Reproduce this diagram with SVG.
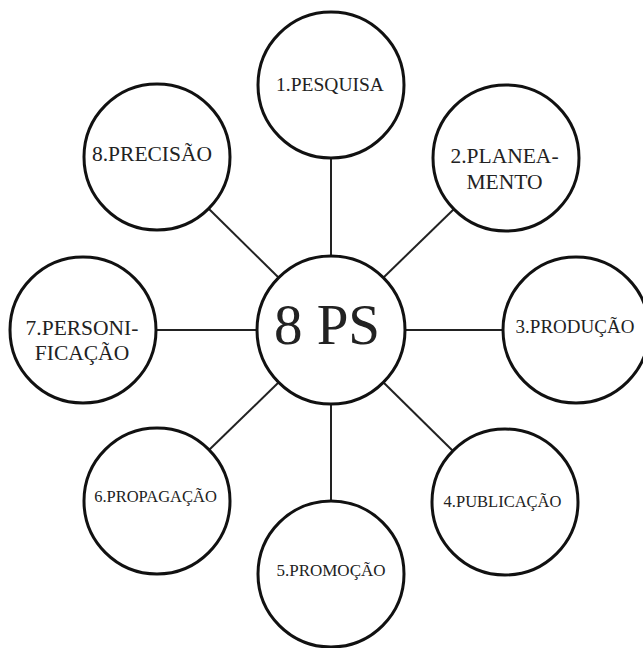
<svg xmlns="http://www.w3.org/2000/svg" width="643" height="648" viewBox="0 0 643 648">
<style>
.node circle{fill:#fff;stroke:#111;stroke-width:3}
.edge{stroke:#222;stroke-width:2}
text{font-family:"Liberation Serif","Times New Roman",serif;fill:#222;text-anchor:middle}
</style>
<rect width="643" height="648" fill="#fff"/>
<g id="connectors">
<line class="edge" x1="331" y1="256" x2="331" y2="158"/>
<line class="edge" x1="383" y1="278" x2="454" y2="209"/>
<line class="edge" x1="405" y1="330" x2="503" y2="330"/>
<line class="edge" x1="383" y1="382" x2="453" y2="451"/>
<line class="edge" x1="331" y1="404" x2="331" y2="503"/>
<line class="edge" x1="279" y1="382" x2="209" y2="450"/>
<line class="edge" x1="257" y1="330" x2="156" y2="330"/>
<line class="edge" x1="279" y1="278" x2="209" y2="209"/>
</g>
<g id="center" class="node"><circle cx="331" cy="330" r="74"/><text x="327" y="344" font-size="57">8 PS</text></g>
<g id="n1" class="node"><circle cx="331" cy="85" r="73"/><text x="330" y="91" font-size="19.5">1.PESQUISA</text></g>
<g id="n2" class="node"><circle cx="506" cy="158" r="73"/><text x="504.5" y="163" font-size="21.5">2.PLANEA-</text><text x="504.5" y="189" font-size="21.5">MENTO</text></g>
<g id="n3" class="node"><circle cx="576" cy="330" r="73"/><text x="575" y="333" font-size="19">3.PRODUÇÃO</text></g>
<g id="n4" class="node"><circle cx="505" cy="502" r="73"/><text x="502.5" y="507" font-size="16.5">4.PUBLICAÇÃO</text></g>
<g id="n5" class="node"><circle cx="331" cy="574" r="73"/><text x="331" y="576" font-size="17">5.PROMOÇÃO</text></g>
<g id="n6" class="node"><circle cx="157" cy="501" r="73"/><text x="155.5" y="502" font-size="16.5">6.PROPAGAÇÃO</text></g>
<g id="n7" class="node"><circle cx="83" cy="330" r="73"/><text x="82" y="335" font-size="21.5">7.PERSONI-</text><text x="82" y="360" font-size="21.5">FICAÇÃO</text></g>
<g id="n8" class="node"><circle cx="157" cy="157" r="73"/><text x="152" y="161" font-size="21.5">8.PRECISÃO</text></g>
</svg>
